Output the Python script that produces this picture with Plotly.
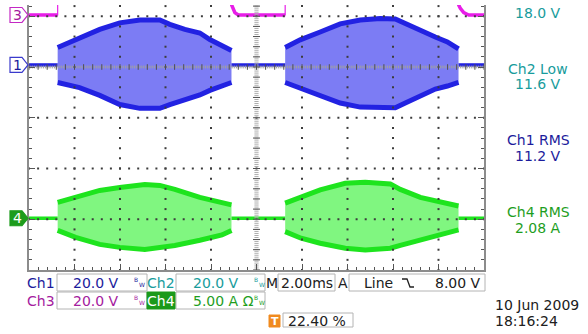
import plotly.graph_objects as go
import numpy as np

# ---------------- canvas / screen geometry (pixels) ----------------
W, H = 588, 334
L, R, T, B = 29, 484, 5, 270          # graticule area
FONT = "DejaVu Sans"

# ---------------- scope settings ----------------
CH1_SCALE = 20.0   # V/div
CH3_SCALE = 20.0   # V/div
CH4_SCALE = 5.0    # A/div
CH1_POS = 0.04     # div
CH3_POS = 1.025    # div
CH4_POS = -2.98    # div
TIME_RANGE = [-10.0, 10.0]   # ms, 2.00 ms/div
Y_RANGE = [-4.0, 1.2217]     # visible divisions

# Ch1 voltage envelope of the two bursts (V)
ch1_b1_t = [-8.74, -7.78, -6.89, -6.01, -5.13, -4.25, -3.81, -3.15, -2.49, -2.05, -1.61, -1.10]
ch1_b1_hi = [6.9, 10.8, 14.0, 16.6, 17.7, 17.7, 16.0, 14.0, 12.6, 10.0, 8.1, 5.7]
ch1_b1_lo = [-6.9, -8.9, -12.0, -15.6, -17.1, -17.1, -15.6, -13.8, -11.8, -10.0, -8.7, -6.9]
ch1_b2_t = [1.26, 1.92, 2.80, 3.68, 4.56, 5.44, 6.10, 6.54, 7.20, 7.86, 8.39, 8.88]
ch1_b2_hi = [6.9, 9.9, 13.0, 16.2, 17.7, 18.3, 18.1, 16.2, 13.8, 11.0, 9.1, 6.3]
ch1_b2_lo = [-6.9, -9.1, -12.2, -15.0, -16.6, -16.9, -16.9, -15.0, -12.2, -9.5, -8.3, -6.9]
ch1_idle = 0.0

# Ch4 current envelope of the two bursts (A)
ch4_b1_t = [-8.74, -7.95, -6.89, -6.01, -4.91, -4.25, -3.59, -2.49, -2.05, -1.52, -1.10]
ch4_b1_hi = [1.56, 2.05, 2.74, 3.03, 3.33, 3.23, 2.84, 2.05, 1.85, 1.61, 1.31]
ch4_b1_lo = [-1.20, -1.89, -2.58, -2.87, -3.07, -2.93, -2.68, -2.17, -1.89, -1.65, -1.20]
ch4_b2_t = [1.26, 1.96, 2.80, 3.90, 4.78, 5.88, 6.32, 7.20, 8.08, 8.88]
ch4_b2_hi = [1.48, 2.07, 2.79, 3.45, 3.55, 3.38, 2.84, 2.05, 1.56, 1.21]
ch4_b2_lo = [-1.32, -1.97, -2.46, -2.96, -3.12, -2.96, -2.68, -2.19, -1.69, -1.15]
ch4_idle = 0.0

# Ch3 gate signal (V); high level is above the screen
ch3_t = [-10.0, -8.74, -8.74, -1.10, -1.09, -1.02, -0.95, -0.80, 1.26, 1.26,
         8.88, 8.89, 8.96, 9.11, 9.33, 10.0]
ch3_v = [0.0, 0.0, 18.0, 18.0, 3.9, 2.3, 0.9, 0.0, 0.0, 18.0,
         18.0, 3.9, 2.6, 0.9, 0.0, 0.0]

# readouts
meas_labels = [("", "18.0 V"), ("Ch2 Low", "11.6 V"), ("Ch1 RMS", "11.2 V"), ("Ch4 RMS", "2.08 A")]
ch_settings = {"Ch1": "20.0 V", "Ch2": "20.0 V", "Ch3": "20.0 V", "Ch4": "5.00 A Ω"}
timebase = "2.00ms"
trigger_src, trigger_level = "Line", "8.00 V"
trigger_pos = "22.40 %"
date_str, time_str = "10 Jun 2009", "18:16:24"

# ---------------- colours ----------------
C1_FILL, C1_EDGE, C1_TXT = "rgb(124,124,244)", "rgb(34,34,226)", "#1c1c9c"
C4_FILL, C4_EDGE, C4_TXT = "rgb(128,246,128)", "rgb(30,228,30)", "#1e9e1e"
C3_LINE, C3_TXT = "rgb(232,30,232)", "#a4209e"
C2_TXT = "#189c9c"
GRID = "#3c3c3c"


def to_div(vals, scale, pos):
    return [None if v is None else v / scale + pos for v in vals]


def px(x):
    return (x - L) / (R - L)


def py(y):
    return (B - y) / (B - T)


fig = go.Figure()


def add_burst(t, hi, lo, scale, pos, fill, edge):
    fig.add_trace(go.Scatter(x=t + t[::-1], y=to_div(hi + lo[::-1], scale, pos),
                             fill="toself", fillcolor=fill, mode="lines",
                             line=dict(width=0, color=fill), hoverinfo="skip"))
    for env in (hi, lo):
        fig.add_trace(go.Scatter(x=t, y=to_div(env, scale, pos), mode="lines",
                                 line=dict(width=5, color=edge), hoverinfo="skip"))


def add_idle(bursts, level, scale, pos, color):
    xs, ys = [TIME_RANGE[0]], [level]
    for t in bursts:
        xs += [t[0], None, t[-1]]
        ys += [level, None, level]
    xs.append(TIME_RANGE[1])
    ys.append(level)
    fig.add_trace(go.Scatter(x=xs, y=to_div(ys, scale, pos), mode="lines",
                             line=dict(width=3.5, color=color), hoverinfo="skip"))


add_burst(ch1_b1_t, ch1_b1_hi, ch1_b1_lo, CH1_SCALE, CH1_POS, C1_FILL, C1_EDGE)
add_burst(ch1_b2_t, ch1_b2_hi, ch1_b2_lo, CH1_SCALE, CH1_POS, C1_FILL, C1_EDGE)
add_idle([ch1_b1_t, ch1_b2_t], ch1_idle, CH1_SCALE, CH1_POS, C1_EDGE)

add_burst(ch4_b1_t, ch4_b1_hi, ch4_b1_lo, CH4_SCALE, CH4_POS, C4_FILL, C4_EDGE)
add_burst(ch4_b2_t, ch4_b2_hi, ch4_b2_lo, CH4_SCALE, CH4_POS, C4_FILL, C4_EDGE)
add_idle([ch4_b1_t, ch4_b2_t], ch4_idle, CH4_SCALE, CH4_POS, C4_EDGE)

# Ch3: thin line for the whole waveform (fast edges), thick where it is settled
fig.add_trace(go.Scatter(x=ch3_t, y=to_div(ch3_v, CH3_SCALE, CH3_POS), mode="lines",
                         line=dict(width=1.2, color=C3_LINE), hoverinfo="skip"))
thick_t, thick_v = [], []
for i, (tv, vv) in enumerate(zip(ch3_t, ch3_v)):
    if i > 0 and tv == ch3_t[i - 1]:
        thick_t.append(None)
        thick_v.append(None)
    thick_t.append(tv)
    thick_v.append(vv)
fig.add_trace(go.Scatter(x=thick_t, y=to_div(thick_v, CH3_SCALE, CH3_POS), mode="lines",
                         line=dict(width=3.5, color=C3_LINE), hoverinfo="skip"))

# ---------------- graticule (dotted, on top of the traces) ----------------
minor_t = np.arange(TIME_RANGE[0], TIME_RANGE[1] + 1e-9, 0.4)
minor_d = np.arange(Y_RANGE[0], Y_RANGE[1] + 1e-9, 0.2)
gx, gy = [], []
for xv in (-8, -6, -4, -2, 2, 4, 6, 8):
    gx += [xv] * len(minor_d)
    gy += list(minor_d)
for yv in (-3, -2, -1, 1):
    gx += list(minor_t)
    gy += [yv] * len(minor_t)
fig.add_trace(go.Scatter(x=gx, y=gy, mode="markers", hoverinfo="skip",
                         marker=dict(symbol="square", size=2, color=GRID, line=dict(width=0))))
# centre lines with fine ticks
fine_t = np.arange(TIME_RANGE[0], TIME_RANGE[1] + 1e-9, 0.08)
fine_d = np.arange(Y_RANGE[0], Y_RANGE[1] + 1e-9, 0.04)
fig.add_trace(go.Scatter(x=list(fine_t), y=[0] * len(fine_t), mode="markers", hoverinfo="skip",
                         marker=dict(symbol="line-ns", size=2, line=dict(width=1, color="#a0a0a0"))))
fig.add_trace(go.Scatter(x=[0] * len(fine_d), y=list(fine_d), mode="markers", hoverinfo="skip",
                         marker=dict(symbol="line-ew", size=3, line=dict(width=1, color="#acacac"))))
fig.add_trace(go.Scatter(x=list(minor_t), y=[0] * len(minor_t), mode="markers", hoverinfo="skip",
                         marker=dict(symbol="line-ns", size=4, line=dict(width=1, color="#505050"))))
fig.add_trace(go.Scatter(x=[0] * len(minor_d), y=list(minor_d), mode="markers", hoverinfo="skip",
                         marker=dict(symbol="line-ew", size=5, line=dict(width=1, color="#505050"))))

# ---------------- annotations / shapes ----------------
ann = []
shapes = []


def text(s, x, y, color, size=14, xanchor="center", yref="paper"):
    ann.append(dict(text=s, x=px(x), y=(py(y) if yref == "paper" else y), xref="paper", yref=yref,
                    showarrow=False, xanchor=xanchor, yanchor="middle",
                    font=dict(family=FONT, size=size, color=color)))


def rect(x0, y0, x1, y1, line="#b4b4b4", fill="white", width=1):
    shapes.append(dict(type="rect", xref="paper", yref="paper", x0=px(x0), x1=px(x1),
                       y0=py(y1), y1=py(y0), line=dict(color=line, width=width), fillcolor=fill,
                       layer="above"))


# right-hand measurement readouts
meas_colors = [C2_TXT, C2_TXT, C1_TXT, C4_TXT]
meas_y = [(-2, 13.5), (69, 84), (140, 155.5), (212, 228)]
for (lab, val), col, (y1, y2) in zip(meas_labels, meas_colors, meas_y):
    if lab:
        text(lab, 538, y1, col)
    text(val, 538, y2, col)

# channel ground markers on the left edge
dh = 7.5 / ((B - T) / (Y_RANGE[1] - Y_RANGE[0]))
for lab, pos, line_c, fill_c, txt_c in (("1", CH1_POS, "#3a3acc", "white", C1_TXT),
                                         ("3", CH3_POS, "#c428c4", "white", C3_TXT),
                                         ("4", CH4_POS, "#1c9c1c", "#1c9c1c", "white")):
    path = (f"M {px(10)},{pos + dh} L {px(22)},{pos + dh} L {px(28)},{pos} "
            f"L {px(22)},{pos - dh} L {px(10)},{pos - dh} Z")
    shapes.append(dict(type="path", xref="paper", yref="y", path=path,
                       line=dict(color=line_c, width=1.2), fillcolor=fill_c, layer="above"))
    ann.append(dict(text=lab, x=px(17), y=pos, xref="paper", yref="y", showarrow=False,
                    xanchor="center", yanchor="middle",
                    font=dict(family=FONT, size=14, color=txt_c)))

# bottom status area
rows = {1: 282.5, 2: 300.5}
rect(57, 274, 147, 291)
rect(176, 274, 265, 291)
rect(278, 274, 335, 291)
rect(349, 274, 485, 291)
rect(57, 292, 147, 309)
rect(176, 292, 265, 309)
rect(147, 292, 175, 309, line="#1a9a1a", fill="#1a9a1a")
rect(283, 313, 353, 327)

text("Ch1", 41, rows[1], C1_TXT)
text(ch_settings["Ch1"], 95.5, rows[1], C1_TXT)
text("Ch2", 161, rows[1], C2_TXT)
text(ch_settings["Ch2"], 215.5, rows[1], C2_TXT)
text("M", 271.5, rows[1], "#202020")
text(timebase, 307, rows[1], "#202020")
text("A", 343, rows[1], "#202020")
text(trigger_src, 362, rows[1], "#202020", xanchor="left")
text(trigger_level, 483, rows[1], "#202020", xanchor="right")
shapes.append(dict(type="path", xref="paper", yref="paper",
                   path=f"M {px(402)},{py(279)} L {px(407)},{py(279)} L {px(410)},{py(287)} L {px(414)},{py(287)}",
                   line=dict(color="#202020", width=1.3)))

text("Ch3", 41, rows[2], C3_TXT)
text(ch_settings["Ch3"], 95.5, rows[2], C3_TXT)
text("Ch4", 161, rows[2], "white")
text(ch_settings["Ch4"], 223, rows[2], C4_TXT)

# bandwidth-limit glyphs (small B above-left, W below-right)
for (xb, yb), col in (((139, 282), C1_TXT), ((259, 282), C2_TXT),
                       ((139, 300), C3_TXT), ((259, 300), C4_TXT)):
    text("B", xb - 3, yb - 3, col, size=6)
    text("W", xb + 2.8, yb + 2, col, size=6)

# trigger position icon + value
shapes.append(dict(type="rect", xref="paper", yref="paper", x0=px(269), x1=px(280),
                   y0=py(327), y1=py(315), line=dict(color="#f08a1e", width=1),
                   fillcolor="#f08a1e", layer="above"))
text("<b>T</b>", 274.5, 321, "white", size=11)
text(trigger_pos, 286, 320.5, "#202020", xanchor="left")

text(date_str, 493, 305, "#202020", xanchor="left")
text(time_str, 493, 321, "#202020", xanchor="left")

fig.update_layout(
    width=W, height=H,
    margin=dict(l=L, r=W - R, t=T, b=H - B, pad=0),
    paper_bgcolor="white", plot_bgcolor="white",
    showlegend=False, hovermode=False,
    annotations=ann, shapes=shapes,
    xaxis=dict(range=TIME_RANGE, showgrid=False, zeroline=False, showticklabels=False,
               showline=True, linecolor="#8c8c8c", linewidth=2, mirror=False,
               ticks="inside", tickmode="linear", tick0=0, dtick=2, ticklen=6,
               tickcolor="#555555", tickwidth=1,
               minor=dict(ticks="inside", dtick=0.4, tick0=0, ticklen=3,
                          tickcolor="#555555", tickwidth=1, showgrid=False)),
    yaxis=dict(range=Y_RANGE, showgrid=False, zeroline=False, showticklabels=False,
               showline=True, linecolor="#8c8c8c", linewidth=2, mirror="ticks",
               ticks="inside", tickmode="linear", tick0=0, dtick=1, ticklen=6,
               tickcolor="#555555", tickwidth=1,
               minor=dict(ticks="inside", dtick=0.2, tick0=0, ticklen=3,
                          tickcolor="#555555", tickwidth=1, showgrid=False)),
)

fig.write_html("out.html", config={"displayModeBar": False, "staticPlot": True},
               post_script="document.body.style.margin='0px';")
